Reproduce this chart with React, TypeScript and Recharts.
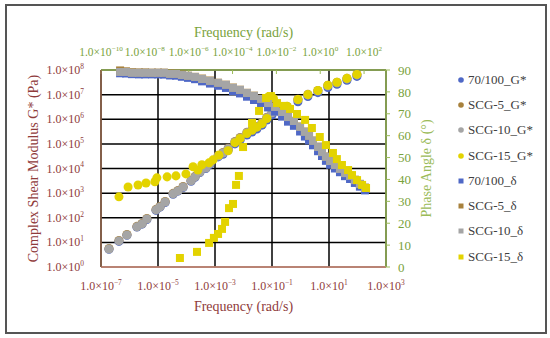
import React from 'react';
import { ScatterChart, Scatter, XAxis, YAxis, ZAxis, CartesianGrid, Legend } from 'recharts';

// all frequencies and moduli are stored as log10 values
// G* series: [log10 frequency (bottom axis), log10 G* in Pa]
const g70100: [number, number][] = [
  [-6.72, 0.72], [-6.37, 1.04], [-6.09, 1.29], [-5.74, 1.62], [-5.56, 1.74], [-5.39, 1.93], [-5.07, 2.3],
  [-4.93, 2.43], [-4.75, 2.62], [-4.47, 2.95], [-4.3, 3.08], [-4.12, 3.23], [-3.84, 3.48], [-3.7, 3.64],
  [-3.53, 3.84], [-3.32, 4.0], [-3.18, 4.16], [-2.89, 4.47], [-2.72, 4.58], [-2.54, 4.74], [-2.3, 5.0],
  [-2.12, 5.15], [-1.88, 5.36], [-1.7, 5.48], [-1.53, 5.6], [-1.35, 5.76], [-1.18, 5.97], [-1.0, 6.17],
  [-0.72, 6.3], [-0.47, 6.42], [-0.09, 6.71], [0.26, 6.92], [0.61, 7.08], [0.96, 7.29], [1.28, 7.42],
  [1.63, 7.58], [1.98, 7.74],
];
const gScg5: [number, number][] = [
  [-6.72, 0.75], [-6.37, 1.08], [-6.09, 1.32], [-5.74, 1.65], [-5.56, 1.77], [-5.39, 1.97], [-5.07, 2.34],
  [-4.93, 2.46], [-4.75, 2.66], [-4.47, 2.99], [-4.3, 3.11], [-4.12, 3.27], [-3.84, 3.52], [-3.7, 3.68],
  [-3.53, 3.88], [-3.32, 4.04], [-3.18, 4.21], [-2.89, 4.53], [-2.72, 4.65], [-2.54, 4.82], [-2.3, 5.1],
  [-2.12, 5.26], [-1.88, 5.47], [-1.7, 5.59], [-1.53, 5.71], [-1.35, 5.87], [-1.18, 6.08], [-1.0, 6.28],
  [-0.72, 6.4], [-0.47, 6.52], [-0.09, 6.81], [0.26, 7.01], [0.61, 7.17], [0.96, 7.38], [1.28, 7.5],
  [1.63, 7.66], [1.98, 7.82],
];
const gScg10: [number, number][] = [
  [-6.72, 0.73], [-6.37, 1.06], [-6.09, 1.3], [-5.74, 1.63], [-5.56, 1.75], [-5.39, 1.95], [-5.07, 2.32],
  [-4.93, 2.44], [-4.75, 2.64], [-4.47, 2.97], [-4.3, 3.09], [-4.12, 3.25], [-3.84, 3.5], [-3.7, 3.66],
  [-3.53, 3.86], [-3.32, 4.02], [-3.18, 4.19], [-2.89, 4.51], [-2.72, 4.63], [-2.54, 4.8], [-2.3, 5.08],
  [-2.12, 5.24], [-1.88, 5.45], [-1.7, 5.57], [-1.53, 5.69], [-1.35, 5.85], [-1.18, 6.06], [-1.0, 6.26],
  [-0.72, 6.38], [-0.47, 6.5], [-0.09, 6.79], [0.26, 6.99], [0.61, 7.15], [0.96, 7.36], [1.28, 7.48],
  [1.63, 7.64], [1.98, 7.8],
];
const gScg15: [number, number][] = [
  [-6.37, 2.85], [-6.05, 3.25], [-5.7, 3.33], [-5.42, 3.41], [-5.11, 3.46], [-5.04, 3.62], [-4.68, 3.66],
  [-4.37, 3.7], [-4.02, 3.78], [-3.77, 4.07], [-3.6, 3.94], [-3.46, 4.15], [-3.21, 4.23], [-3.07, 4.35],
  [-2.86, 4.55], [-2.54, 4.72], [-2.3, 5.05], [-2.12, 5.22], [-1.88, 5.42], [-1.7, 5.55], [-1.53, 5.68],
  [-1.35, 5.82], [-1.18, 6.03], [-1.14, 6.9], [-0.95, 6.85], [-0.72, 6.4], [-0.47, 6.53], [-0.09, 6.8],
  [0.26, 7.0], [0.61, 7.17], [0.96, 7.38], [1.28, 7.5], [1.63, 7.66], [1.98, 7.82],
];

// phase angle series: [log10 frequency (top axis), delta in degrees]
const d70100: [number, number][] = [
  [-9.13, 88.5], [-8.86, 88.4], [-8.59, 88.1], [-8.27, 88.0], [-7.99, 88.0], [-7.67, 88.0], [-7.4, 88.0],
  [-7.13, 87.9], [-6.85, 87.5], [-6.58, 87.4], [-6.31, 86.9], [-6.03, 86.4], [-5.71, 85.8], [-5.39, 84.8],
  [-5.03, 83.8], [-4.66, 82.8], [-4.3, 81.8], [-3.98, 80.3], [-3.66, 79.3], [-3.34, 77.8], [-3.02, 76.3],
  [-2.7, 74.9], [-2.38, 72.9], [-2.06, 71.0], [-1.74, 68.7], [-1.47, 66.4], [-1.2, 64.5], [-0.92, 61.9],
  [-0.7, 59.6], [-0.51, 57.8], [-0.33, 55.6], [-0.1, 52.9], [0.08, 50.7], [0.26, 48.5], [0.45, 46.7],
  [0.67, 45.0], [0.9, 43.3], [1.13, 41.5], [1.36, 40.2], [1.58, 38.4], [1.81, 36.7], [2.04, 35.0],
];
const dScg5: [number, number][] = [
  [-9.13, 89.8], [-8.86, 89.4], [-8.59, 89.0], [-8.27, 88.9], [-7.99, 88.9], [-7.67, 88.8], [-7.4, 88.8],
  [-7.13, 88.8], [-6.85, 88.4], [-6.58, 88.3], [-6.31, 87.9], [-6.03, 87.4], [-5.71, 86.9], [-5.39, 86.1],
  [-5.03, 85.2], [-4.66, 84.2], [-4.3, 83.3], [-3.98, 82.0], [-3.66, 81.0], [-3.34, 79.6], [-3.02, 78.3],
  [-2.7, 76.9], [-2.38, 75.1], [-2.06, 73.2], [-1.74, 71.0], [-1.47, 68.7], [-1.2, 66.8], [-0.92, 64.2],
  [-0.7, 61.9], [-0.51, 60.0], [-0.33, 57.8], [-0.1, 55.0], [0.08, 52.7], [0.26, 50.5], [0.45, 48.6],
  [0.67, 46.8], [0.9, 45.0], [1.13, 43.1], [1.36, 41.7], [1.58, 39.9], [1.81, 38.0], [2.04, 36.3],
];
const dScg10: [number, number][] = [
  [-9.13, 89.1], [-8.86, 89.1], [-8.59, 88.7], [-8.27, 88.7], [-7.99, 88.7], [-7.67, 88.7], [-7.4, 88.7],
  [-7.13, 88.7], [-6.85, 88.2], [-6.58, 88.2], [-6.31, 87.7], [-6.03, 87.3], [-5.71, 86.8], [-5.39, 85.9],
  [-5.03, 85.0], [-4.66, 84.1], [-4.3, 83.2], [-3.98, 81.8], [-3.66, 80.9], [-3.34, 79.5], [-3.02, 78.1],
  [-2.7, 76.8], [-2.38, 74.9], [-2.06, 73.1], [-1.74, 70.8], [-1.47, 68.5], [-1.2, 66.7], [-0.92, 64.0],
  [-0.7, 61.7], [-0.51, 59.9], [-0.33, 57.6], [-0.1, 54.8], [0.08, 52.5], [0.26, 50.3], [0.45, 48.4],
  [0.67, 46.6], [0.9, 44.8], [1.13, 42.9], [1.36, 41.6], [1.58, 39.7], [1.81, 37.9], [2.04, 36.1],
];
const dScg15: [number, number][] = [
  [-6.4, 4.1], [-5.62, 6.9], [-5.07, 11.0], [-4.85, 13.3], [-4.66, 15.1], [-4.48, 17.4], [-4.34, 20.6],
  [-4.16, 26.9], [-3.98, 28.8], [-3.84, 37.5], [-3.71, 41.6], [-3.52, 54.8], [-3.11, 65.8], [-2.79, 71.3],
  [-2.47, 77.2], [-2.25, 78.1], [-1.97, 74.9], [-1.65, 73.6], [-1.38, 72.2], [-1.06, 69.9], [-0.69, 67.2],
  [-0.38, 63.5], [-0.02, 59.4], [0.26, 55.7], [0.58, 52.1], [0.76, 49.3], [0.99, 46.6], [1.27, 44.3],
  [1.45, 42.0], [1.68, 39.7], [1.91, 37.5], [2.09, 36.1],
];

const bottomTicks = [-7, -5, -3, -1, 1, 3];
const topTicks = [-10, -8, -6, -4, -2, 0, 2];
const leftTicks = [0, 1, 2, 3, 4, 5, 6, 7, 8];
const rightTicks = [0, 10, 20, 30, 40, 50, 60, 70, 80, 90];

const BLUE = '#4f68c6';
const BROWN = '#a8813c';
const GRAY = '#a5a5a5';
const YELLOW = '#e3d300';
const MAROON = '#8f3b3b';
const GREEN = '#79a23c';
const LIGHT_GREEN = '#9bbb59';
const FONT = '"Liberation Serif", "DejaVu Serif", serif';

const toPts = (arr: [number, number][]) => arr.map(([f, v]) => ({ f, v }));

const series = [
  { name: '70/100_G*', data: g70100, color: BLUE, shape: 'circle', x: 'bottom', y: 'left' },
  { name: 'SCG-5_G*', data: gScg5, color: BROWN, shape: 'circle', x: 'bottom', y: 'left' },
  { name: 'SCG-10_G*', data: gScg10, color: GRAY, shape: 'circle', x: 'bottom', y: 'left' },
  { name: 'SCG-15_G*', data: gScg15, color: YELLOW, shape: 'circle', x: 'bottom', y: 'left' },
  { name: '70/100_δ', data: d70100, color: BLUE, shape: 'square', x: 'top', y: 'right' },
  { name: 'SCG-5_δ', data: dScg5, color: BROWN, shape: 'square', x: 'top', y: 'right' },
  { name: 'SCG-10_δ', data: dScg10, color: GRAY, shape: 'square', x: 'top', y: 'right' },
  { name: 'SCG-15_δ', data: dScg15, color: YELLOW, shape: 'square', x: 'top', y: 'right' },
];

function ExpTick(props: any) {
  const { x, y, payload, anchor, offY, color, size } = props;
  const e = payload.value;
  const exp = e < 0 ? '\u2212' + Math.abs(e) : String(e);
  return (
    <text x={x} y={y + offY} textAnchor={anchor} fill={color} fontSize={size} fontFamily={FONT}>
      <tspan>1.0×10</tspan>
      <tspan fontSize={size * 0.62} dy={-size * 0.42}>{exp}</tspan>
    </text>
  );
}

function LegendBox() {
  return (
    <div style={{ fontFamily: FONT, fontSize: 13, color: '#404040' }}>
      {series.map((s) => (
        <div key={s.name} style={{ height: 25.3, display: 'flex', alignItems: 'center' }}>
          <svg width={8} height={8} style={{ display: 'block' }}>
            {s.shape === 'circle' ? (
              <circle cx={4} cy={4} r={2.8} fill={s.color} />
            ) : (
              <rect x={1.5} y={1.5} width={5} height={5} fill={s.color} />
            )}
          </svg>
          <span style={{ marginLeft: 3, whiteSpace: 'nowrap' }}>{s.name}</span>
        </div>
      ))}
    </div>
  );
}

export default function App() {
  return (
    <div style={{ position: 'absolute', left: 0, top: 0, width: 550, height: 338, background: '#fff' }}>
      <div
        style={{
          position: 'absolute', left: 5, top: 4, width: 542, height: 330,
          border: '2px solid #555', boxSizing: 'border-box',
        }}
      />
      <ScatterChart width={550} height={338} margin={{ top: 0, right: 0, bottom: 0, left: 0 }}>
        <CartesianGrid xAxisId="bottom" yAxisId="left" stroke="#000" strokeWidth={1.5} />
        <XAxis
          xAxisId="top" orientation="top" type="number" dataKey="f" domain={[-10, 3]} ticks={topTicks}
          interval={0} height={70} tickSize={4} tickMargin={0}
          axisLine={{ stroke: LIGHT_GREEN, strokeWidth: 1.5 }}
          tickLine={{ stroke: LIGHT_GREEN, transform: 'translate(0,4)' }}
          tick={<ExpTick anchor="middle" offY={-10} color={GREEN} size={11.5} />}
          label={{ value: 'Frequency (rad/s)', position: 'center', dy: -3, fill: GREEN, fontSize: 14, fontFamily: FONT }}
        />
        <XAxis
          xAxisId="bottom" orientation="bottom" type="number" dataKey="f" domain={[-7, 3]} ticks={bottomTicks}
          interval={0} height={71} tickSize={0} tickMargin={0} tickLine={false}
          axisLine={{ stroke: '#e29a86', strokeWidth: 1.5 }}
          tick={<ExpTick anchor="middle" offY={23} color={MAROON} size={12} />}
          label={{ value: 'Frequency (rad/s)', position: 'center', dy: 4, fill: MAROON, fontSize: 14, fontFamily: FONT }}
        />
        <YAxis
          yAxisId="left" orientation="left" type="number" dataKey="v" domain={[0, 8]} ticks={leftTicks}
          interval={0} width={101} tickSize={0} tickMargin={17} tickLine={false}
          axisLine={{ stroke: '#9a6a4e', strokeWidth: 1.5 }}
          tick={<ExpTick anchor="end" offY={4} color={MAROON} size={12} />}
          label={{ value: 'Complex Shear Modulus G* (Pa)', position: 'center', angle: -90, dx: -17, fill: MAROON, fontSize: 14, fontFamily: FONT }}
        />
        <YAxis
          yAxisId="right" orientation="right" type="number" dataKey="v" domain={[0, 90]} ticks={rightTicks}
          interval={0} width={164} tickSize={4} tickMargin={8}
          axisLine={{ stroke: LIGHT_GREEN, strokeWidth: 1.5 }}
          tickLine={{ stroke: LIGHT_GREEN }}
          tick={{ fill: GREEN, fontSize: 13, fontFamily: FONT }}
          label={{ value: 'Phase Angle δ (°)', position: 'center', angle: -90, dx: -42, fill: LIGHT_GREEN, fontSize: 14, fontFamily: FONT }}
        />
        <ZAxis range={[36, 36]} />
        {series.map((s) => (
          <Scatter
            key={s.name}
            name={s.name}
            data={toPts(s.data)}
            xAxisId={s.x}
            yAxisId={s.y}
            fill={s.color}
            shape={s.shape as any}
            isAnimationActive={false}
          />
        ))}
        <Legend
          layout="vertical" align="center" verticalAlign="middle"
          wrapperStyle={{ left: 457, top: 67, width: 92 }}
          content={() => <LegendBox />}
        />
      </ScatterChart>
    </div>
  );
}
